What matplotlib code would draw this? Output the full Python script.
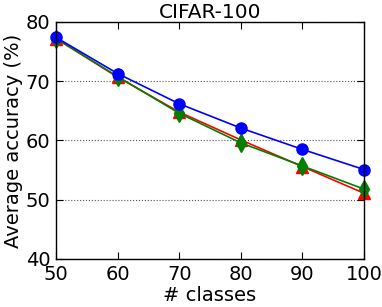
import matplotlib
matplotlib.use("Agg")
import matplotlib.pyplot as plt

classes = [50, 60, 70, 80, 90, 100]
acc_blue = [77.4, 71.3, 66.2, 62.1, 58.5, 55.1]
acc_red = [77.2, 70.7, 64.8, 60.1, 55.6, 51.1]
acc_green = [77.2, 70.8, 64.6, 59.6, 55.7, 51.8]

fig = plt.figure(figsize=(3.82, 3.07), dpi=100)
ax = fig.add_axes([56/382, 1-259/307, 308/382, 237/307])
ax.plot(classes, acc_red, color='red', marker='^', markersize=8, linewidth=1.2, markeredgecolor='red')
ax.plot(classes, acc_green, color='green', marker='d', markersize=9, linewidth=1.2, markeredgecolor='green')
ax.plot(classes, acc_blue, color='blue', marker='o', markersize=8, linewidth=1.2, markeredgecolor='blue')
ax.set_xlim(50, 100)
ax.set_ylim(40, 80)
ax.set_xticks(classes)
ax.set_yticks([40, 50, 60, 70, 80])
ax.tick_params(direction='in', top=True, right=True, labelsize=14, length=5, pad=4)
ax.yaxis.grid(True, linestyle=':', color='#555555', linewidth=0.8)
ax.set_axisbelow(True)
for s in ax.spines.values():
    s.set_linewidth(1)
ax.set_title('CIFAR-100', fontsize=14.5, pad=3)
ax.set_xlabel('# classes', fontsize=14, labelpad=2)
ax.set_ylabel('Average accuracy (%)', fontsize=14, labelpad=2)
for m in ax.lines:
    m.set_clip_on(False)
fig.savefig('out.png', dpi=100)
